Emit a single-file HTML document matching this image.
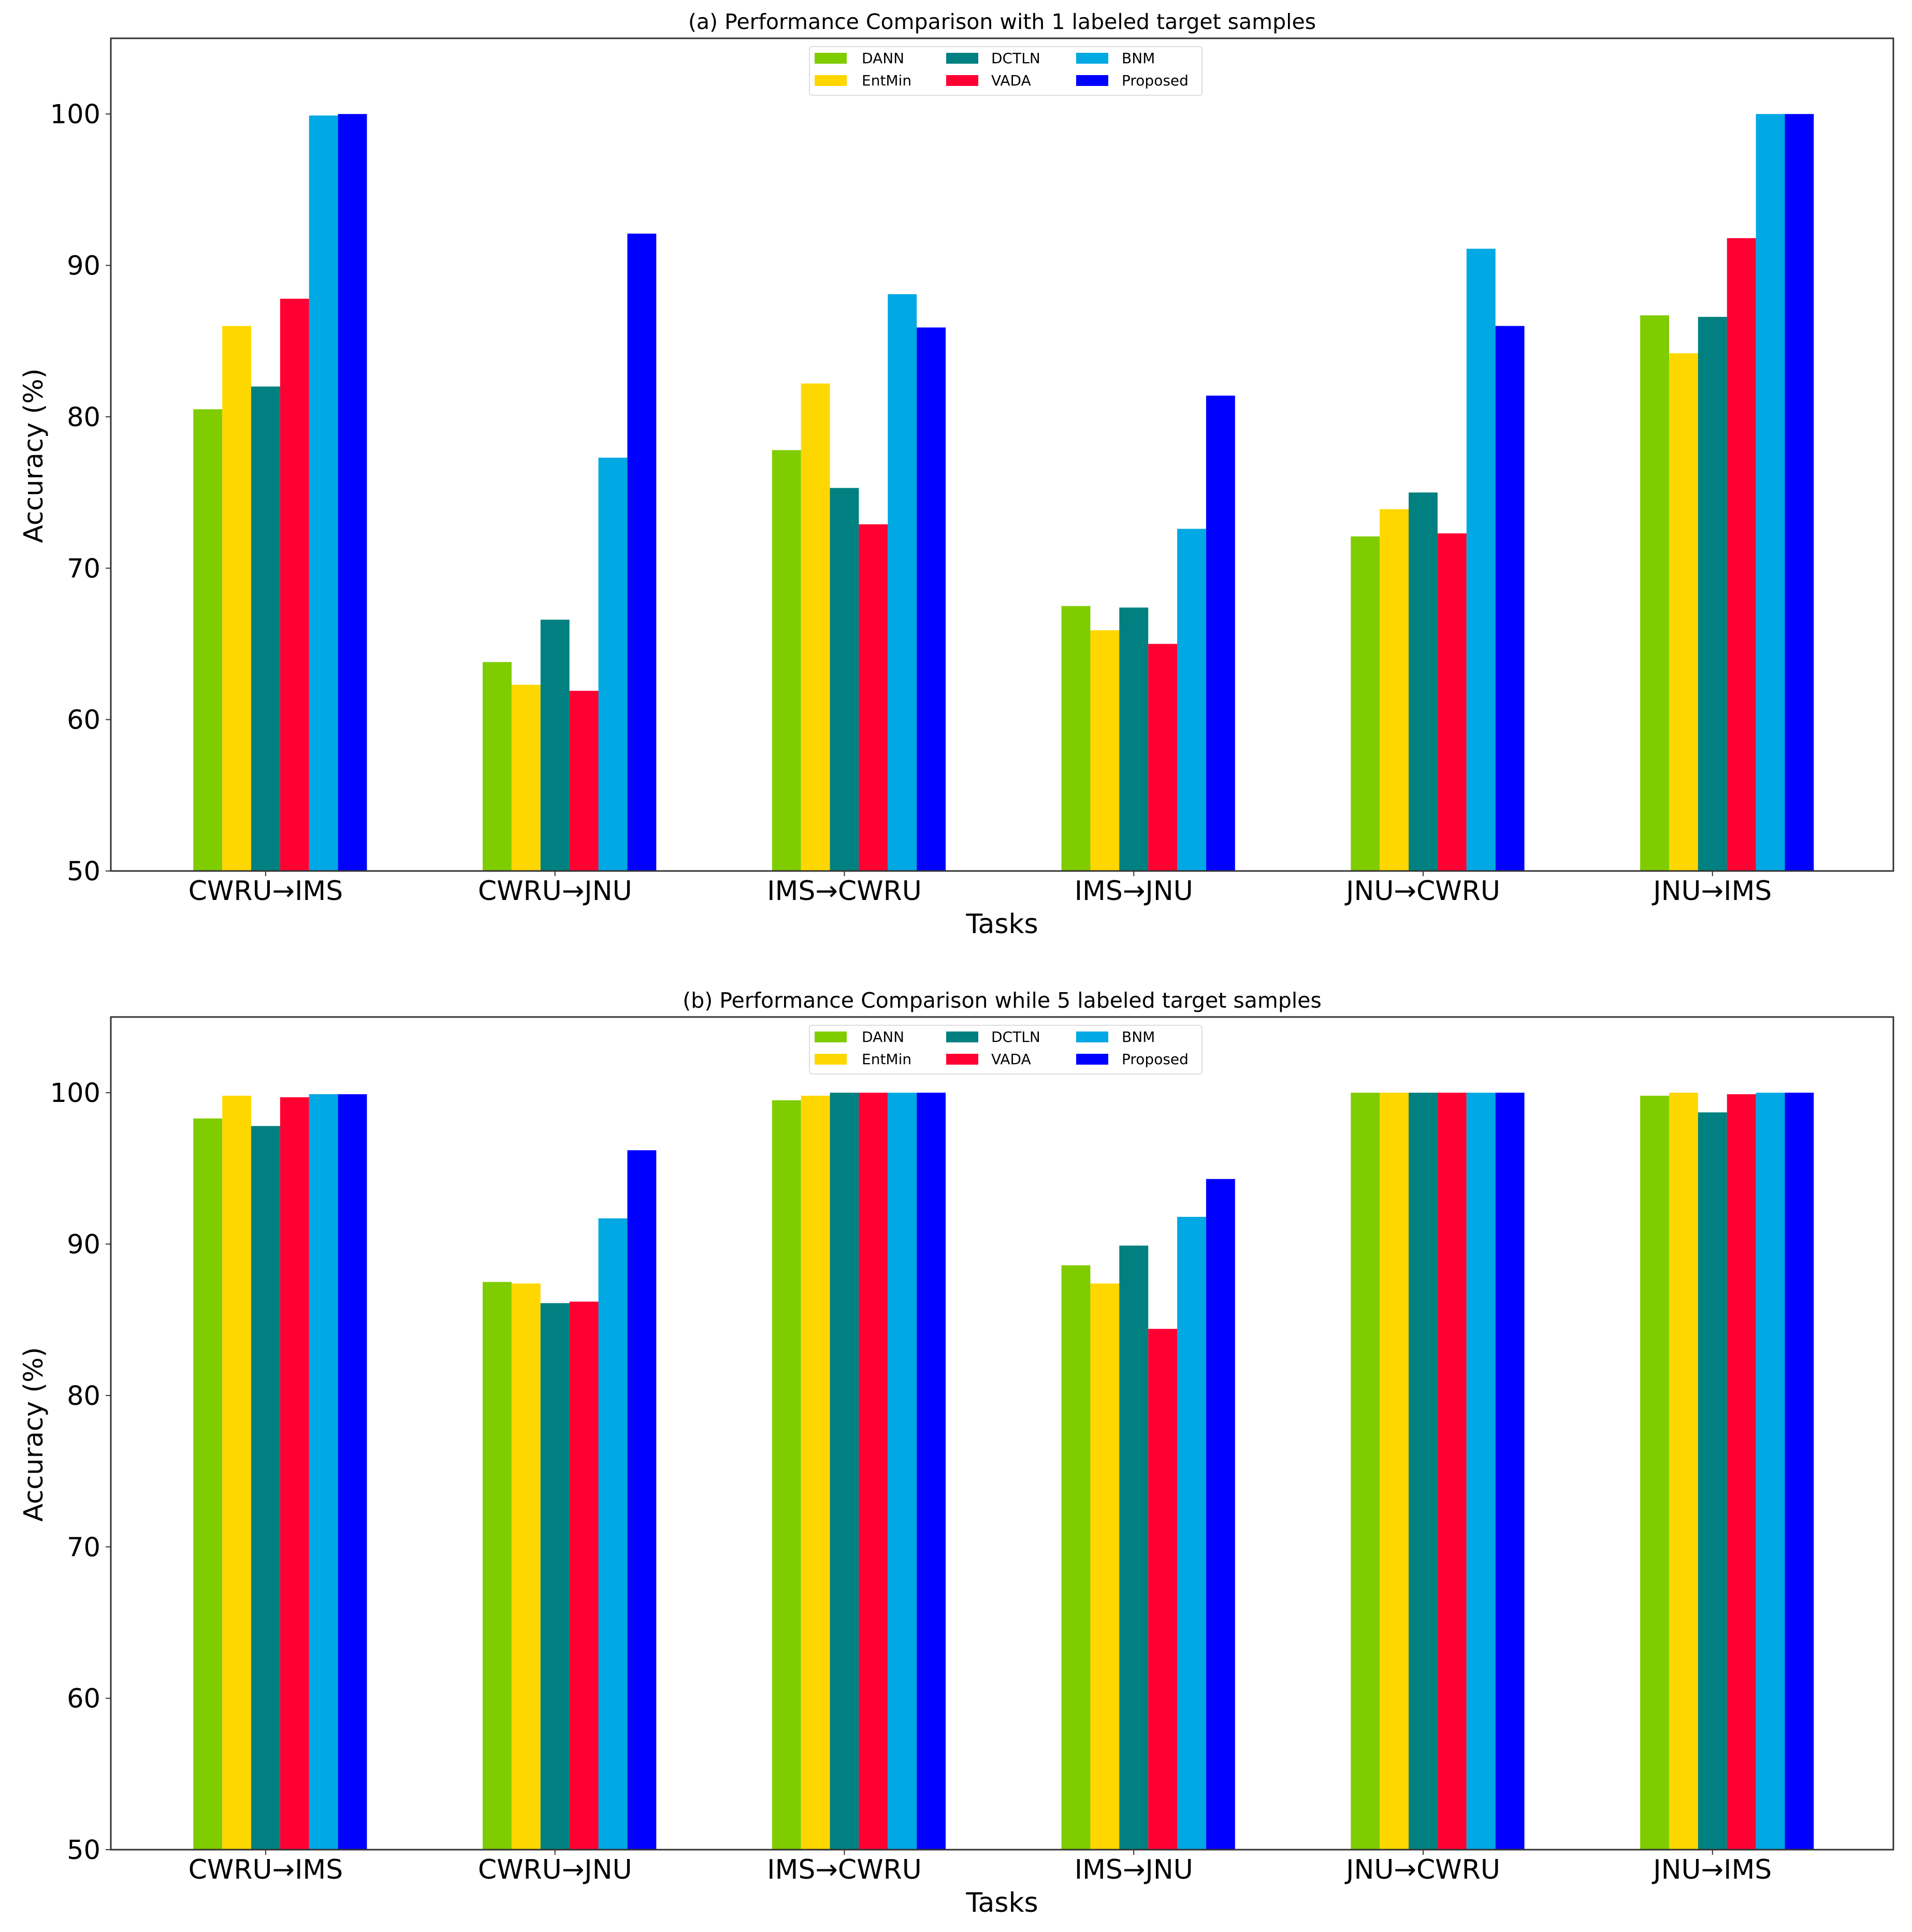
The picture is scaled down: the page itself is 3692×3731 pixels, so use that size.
<!DOCTYPE html>
<html><head><meta charset="utf-8"><style>
html,body{margin:0;padding:0;background:#fff;}
svg{display:block;}
text{font-family:"DejaVu Sans","Liberation Sans",sans-serif;fill:#000;}
</style></head><body>
<svg id="chart" width="3692" height="3731" viewBox="0 0 3692 3731" xmlns="http://www.w3.org/2000/svg"></svg>
<script>
const categories = ["CWRU\u2192IMS","CWRU\u2192JNU","IMS\u2192CWRU","IMS\u2192JNU","JNU\u2192CWRU","JNU\u2192IMS"];
const seriesNames = ["DANN","EntMin","DCTLN","VADA","BNM","Proposed"];
const seriesColors = ["#7fcc00","#ffd700","#008080","#ff0033","#00a8e4","#0000ff"];
const yTicks = [50,60,70,80,90,100];
// panel (a): 1 labeled target sample
const dannA = [80.5,63.8,77.8,67.5,72.1,86.7];
const entminA = [86.0,62.3,82.2,65.9,73.9,84.2];
const dctlnA = [82.0,66.6,75.3,67.4,75.0,86.6];
const vadaA = [87.8,61.9,72.9,65.0,72.3,91.8];
const bnmA = [99.9,77.3,88.1,72.6,91.1,100.0];
const proposedA = [100.0,92.1,85.9,81.4,86.0,100.0];
// panel (b): 5 labeled target samples
const dannB = [98.3,87.5,99.5,88.6,100.0,99.8];
const entminB = [99.8,87.4,99.8,87.4,100.0,100.0];
const dctlnB = [97.8,86.1,100.0,89.9,100.0,98.7];
const vadaB = [99.7,86.2,100.0,84.4,100.0,99.9];
const bnmB = [99.9,91.7,100.0,91.8,100.0,100.0];
const proposedB = [99.9,96.2,100.0,94.3,100.0,100.0];

const NS="http://www.w3.org/2000/svg";
const svg=document.getElementById('chart');
function mk(tag,attrs,parent){const e=document.createElementNS(NS,tag);for(const k in attrs)e.setAttribute(k,attrs[k]);(parent||svg).appendChild(e);return e;}
function txt(s,x,y,size,anchor,parent,sx){const t=mk('text',{x:0,y:0,'font-size':size,'text-anchor':anchor||'start',transform:`translate(${x},${y}) scale(${sx||1.0},1)`},parent);t.textContent=s;return t;}

const X0=214,X1=3656,XMIN=-0.535,XMAX=5.625,BW=0.1;
function xs(v){return X0+(v-XMIN)/(XMAX-XMIN)*(X1-X0);}

function panel(top,title,data,tag){
  const bottom=top+1608;
  const ys=v=>bottom-(v-50)/(105-50)*(bottom-top);
  const g=mk('g',{});
  
  
  const tt=txt(title,(X0+X1)/2,top-18,41,'middle',g);
  
  
  data.forEach((vals,k)=>{
    vals.forEach((v,i)=>{
      const c=i+(k-2)*BW;
      const r=mk('rect',{x:xs(c-BW/2),y:ys(v),width:xs(c+BW/2)-xs(c-BW/2),height:ys(50)-ys(v),fill:seriesColors[k]},g);
      
      
    });
  });
  const fr=mk('rect',{x:X0,y:top,width:X1-X0,height:bottom-top,fill:'none',stroke:'#333','stroke-width':3},g);
  
  
  yTicks.forEach(v=>{
    mk('line',{x1:X0-10,x2:X0,y1:ys(v),y2:ys(v),stroke:'#333','stroke-width':2},g);
    const l=txt(String(v),194,ys(v)+18,51,'end',g);
    
    
  });
  categories.forEach((c,i)=>{
    mk('line',{x1:xs(i),x2:xs(i),y1:bottom,y2:bottom+10,stroke:'#333','stroke-width':2},g);
    const l=txt(c,xs(i),bottom+56,52,'middle',g);
    
    
  });
  const xl=txt('Tasks',(X0+X1)/2,bottom+120,52,'middle',g);
  
  
  const yl=mk('text',{x:0,y:0,'font-size':51,'text-anchor':'middle',transform:`translate(82,${top+806}) rotate(-90)`},g);
  yl.textContent='Accuracy (%)';
  
  
  const lg=mk('g',{},g);
  
  
  mk('rect',{x:1563,y:top+16,width:758,height:94,rx:5,fill:'#fff',stroke:'#ddd','stroke-width':2},lg);
  const colX=[1573,1827,2078],txX=[1664,1914,2166],rowY=[top+28,top+71];
  seriesNames.forEach((n,k)=>{
    const col=Math.floor(k/2),row=k%2;
    const e=mk('g',{},lg);
    
    
    mk('rect',{x:colX[col],y:rowY[row],width:62,height:21,fill:seriesColors[k]},e);
    txt(n,txX[col],rowY[row]+20,28,'start',e);
  });
}
panel(74,'(a) Performance Comparison with 1 labeled target samples',[dannA,entminA,dctlnA,vadaA,bnmA,proposedA],'a');
panel(1964,'(b) Performance Comparison while 5 labeled target samples',[dannB,entminB,dctlnB,vadaB,bnmB,proposedB],'b');
</script>
</body></html>
